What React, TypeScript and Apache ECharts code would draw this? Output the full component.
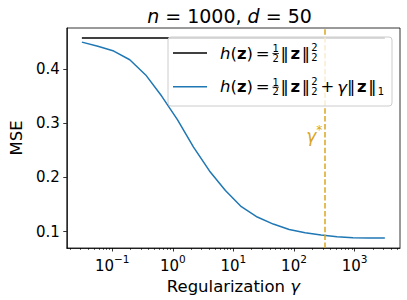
import React, { useEffect, useRef } from "react";
import * as echarts from "echarts";

// ---- data ----
const gamma = [0.0316, 0.058, 0.1062, 0.1948, 0.3569, 0.6543, 1.199, 2.198, 4.03, 7.386, 13.54, 24.81, 45.49, 83.41, 152.9, 280.2, 513.5, 941.4, 1725, 3162];
const mseL1 = [0.4495, 0.4417, 0.433, 0.417, 0.389, 0.35, 0.306, 0.256, 0.212, 0.176, 0.146, 0.127, 0.114, 0.104, 0.098, 0.094, 0.0907, 0.0887, 0.0883, 0.0883];
const gammaL2 = [0.0316, 3162];
const mseL2 = [0.457, 0.457];
const gammaStar = 316;
const xMajorExp = [-1, 0, 1, 2, 3];
const xMinorMult = [2, 3, 4, 5, 6, 7, 8, 9];
const xMinorDecades = [-2, -1, 0, 1, 2, 3];
const yTicks = [0.1, 0.2, 0.3, 0.4];

const F = '"DejaVu Sans", sans-serif';
const BLUE = "#1f77b4";
const GOLD = "#daa520";

const XMIN = -1.75;
const XMAX = 3.75;
const YMIN = 0.0699;
const YMAX = 0.4755;

const MAIN = 16.5;
const SCR = 10;

let _ctx: CanvasRenderingContext2D | null = null;
function measure(text: string, size: number, italic = false, bold = false) {
  if (!_ctx) _ctx = document.createElement("canvas").getContext("2d");
  if (!_ctx) return text.length * size * 0.6;
  _ctx.font = `${italic ? "italic " : ""}${bold ? "bold " : ""}${size}px ${F}`;
  return _ctx.measureText(text).width;
}

function txt(text: string, x: number, y: number, size: number, opts: any = {}) {
  return {
    type: "text",
    x,
    y,
    z: 101,
    silent: true,
    style: {
      text,
      fontFamily: F,
      fontSize: size,
      fontStyle: opts.italic ? "italic" : "normal",
      fontWeight: opts.bold ? "bold" : "normal",
      fill: opts.fill || "#000",
      textAlign: opts.align || "left",
      textVerticalAlign: "middle",
    },
  };
}

// sequential mathtext-like layout of the legend labels
function legendRow(x0: number, cy: number, withL1: boolean) {
  const els: any[] = [];
  let x = x0;
  const put = (t: string, o: any = {}, gapAfter = 0) => {
    els.push(txt(t, x, cy + (o.dy || 0), MAIN, o));
    x += measure(t, MAIN, !!o.italic, !!o.bold) + gapAfter;
  };
  const normPair = () => {
    put("\u2016", {}, 1.7);
    put("z", { bold: true }, 1.7);
    put("\u2016", {}, 1.2);
  };
  put("h", { italic: true });
  put("(");
  put("z", { bold: true });
  put(")", {}, 2.7);
  put("=", {}, 3.0);
  // fraction 1/2
  const dw = measure("2", SCR);
  const fw = 6.5;
  els.push(txt("1", x + fw / 2, cy - 4.4, SCR, { align: "center" }));
  els.push({ type: "line", z: 101, silent: true, shape: { x1: x, y1: cy + 0.5, x2: x + fw, y2: cy + 0.5 }, style: { stroke: "#000", lineWidth: 0.8 } });
  els.push(txt("2", x + fw / 2, cy + 5.2, SCR, { align: "center" }));
  x += fw + 1.5;
  normPair();
  els.push(txt("2", x, cy - 5.6, SCR));
  els.push(txt("2", x, cy + 4.6, SCR));
  x += dw;
  if (withL1) {
    x += 3;
    put("+", {}, 3);
    put("\u03b3", { italic: true, dy: 1 }, 0);
    normPair();
    els.push(txt("1", x, cy + 4.6, SCR));
  }
  return els;
}

export default function App() {
  const ref = useRef<HTMLDivElement>(null);
  useEffect(() => {
    if (!ref.current) return;
    const chart = echarts.init(ref.current, null, { renderer: "svg" });
    const minorTicks: number[] = [];
    xMinorDecades.forEach((d) =>
      xMinorMult.forEach((m) => {
        const v = Math.log10(m * Math.pow(10, d));
        if (v >= XMIN && v <= XMAX) minorTicks.push(v);
      })
    );
    const l1Data = gamma.map((g, i) => [Math.log10(g), mseL1[i]]);
    const l2Data = gammaL2.map((g, i) => [Math.log10(g), mseL2[i]]);
    const xs = Math.log10(gammaStar);

    const cy1 = 53;
    const cy2 = 86.7;

    chart.setOption({
      animation: false,
      grid: { left: 59, right: 7, top: 28, bottom: 52, show: true, borderColor: "#000", borderWidth: 0.8, backgroundColor: "transparent" },
      xAxis: [
        {
          type: "value",
          position: "bottom",
          min: XMIN,
          max: XMAX,
          splitLine: { show: false },
          axisLine: { show: true, onZero: false, lineStyle: { color: "#000", width: 0.8 } },
          axisTick: { show: true, customValues: xMajorExp, length: 3.5, lineStyle: { color: "#000", width: 0.8 } },
          axisLabel: {
            show: true,
            customValues: xMajorExp,
            margin: 5,
            color: "#000",
            fontFamily: F,
            fontSize: 15,
            formatter: (v: number) => "{b|10}{sup|" + (v < 0 ? "\u2212" + -v : String(v)) + "}",
            rich: {
              b: { fontFamily: F, fontSize: 15, color: "#000", lineHeight: 20, verticalAlign: "bottom" },
              sup: { fontFamily: F, fontSize: 10.5, color: "#000", verticalAlign: "top", lineHeight: 12 },
            },
          },
          name: "Regularization {i|\u03b3}",
          nameLocation: "middle",
          nameGap: 21,
          nameTextStyle: {
            fontFamily: F,
            fontSize: 16.5,
            color: "#000",
            rich: { i: { fontFamily: F, fontSize: 16.5, fontStyle: "italic", color: "#000" } },
          },
        },
        {
          type: "value",
          position: "bottom",
          min: XMIN,
          max: XMAX,
          splitLine: { show: false },
          axisLine: { show: false, onZero: false },
          axisTick: { show: true, customValues: minorTicks, length: 2, lineStyle: { color: "#000", width: 0.6 } },
          axisLabel: { show: false },
        },
      ],
      yAxis: {
        type: "value",
        min: YMIN,
        max: YMAX,
        splitLine: { show: false },
        axisLine: { show: true, onZero: false, lineStyle: { color: "#000", width: 0.8 } },
        axisTick: { show: true, customValues: yTicks, length: 3.5, lineStyle: { color: "#000", width: 0.8 } },
        axisLabel: {
          customValues: yTicks,
          margin: 7,
          color: "#000",
          fontFamily: F,
          fontSize: 15,
          formatter: (v: number) => v.toFixed(1),
        },
        name: "MSE",
        nameLocation: "middle",
        nameGap: 38,
        nameRotate: 90,
        nameTextStyle: { fontFamily: F, fontSize: 16.5, color: "#000" },
      },
      series: [
        {
          type: "line",
          data: l2Data,
          xAxisIndex: 0,
          showSymbol: false,
          symbol: "none",
          lineStyle: { color: "#000", width: 1.5 },
          silent: true,
        },
        {
          type: "line",
          data: l1Data,
          xAxisIndex: 0,
          showSymbol: false,
          symbol: "none",
          lineStyle: { color: BLUE, width: 1.5 },
          silent: true,
          markLine: {
            silent: true,
            symbol: "none",
            label: { show: false },
            lineStyle: { color: GOLD, type: [5.5, 2.4], width: 1.5 },
            data: [{ xAxis: xs }],
          },
          markPoint: {
            silent: true,
            symbol: "circle",
            symbolSize: 0,
            data: [
              {
                coord: [xs, 0.28],
                label: {
                  show: true,
                  position: "left",
                  distance: 2,
                  formatter: "{g|\u03b3}{s|*}",
                  rich: {
                    g: { fontFamily: F, fontSize: 17, fontStyle: "italic", color: GOLD, verticalAlign: "bottom", lineHeight: 20 },
                    s: { fontFamily: F, fontSize: 12, color: GOLD, verticalAlign: "top", lineHeight: 12 },
                  },
                },
              },
            ],
          },
        },
      ],
      graphic: [
        {
          type: "text",
          x: 229.5,
          y: 16,
          silent: true,
          style: {
            text: "{i|n} = 1000, {i|d} = 50",
            fontFamily: F,
            fontSize: 19,
            fill: "#000",
            textAlign: "center",
            textVerticalAlign: "middle",
            rich: { i: { fontFamily: F, fontSize: 19, fontStyle: "italic", fill: "#000" } },
          },
        },
        {
          type: "rect",
          z: 100,
          silent: true,
          shape: { x: 168, y: 37, width: 224, height: 69, r: 3 },
          style: { fill: "rgba(255,255,255,0.8)", stroke: "#cccccc", lineWidth: 1 },
        },
        { type: "line", z: 101, silent: true, shape: { x1: 173, y1: cy1, x2: 207, y2: cy1 }, style: { stroke: "#000", lineWidth: 1.5 } },
        { type: "line", z: 101, silent: true, shape: { x1: 173, y1: cy2, x2: 207, y2: cy2 }, style: { stroke: BLUE, lineWidth: 1.5 } },
        ...legendRow(220, cy1, false),
        ...legendRow(220, cy2, true),
      ],
    });
    return () => chart.dispose();
  }, []);
  return <div ref={ref} style={{ position: "fixed", left: 0, top: 0, width: 407, height: 300, background: "#fff" }} />;
}
